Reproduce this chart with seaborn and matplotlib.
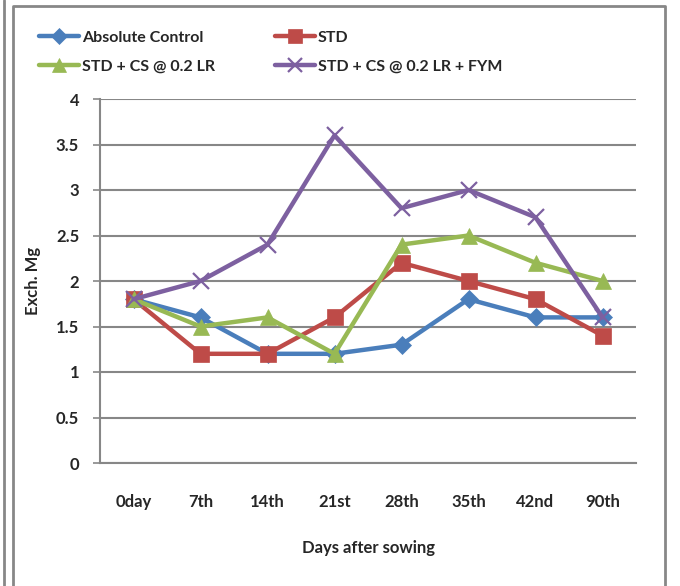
import matplotlib
matplotlib.use("Agg")
import matplotlib.pyplot as plt
from matplotlib.lines import Line2D
from matplotlib.ticker import FixedLocator
import seaborn as sns
import pandas as pd

days = ["0day", "7th", "14th", "21st", "28th", "35th", "42nd", "90th"]
absolute_control = [1.8, 1.6, 1.2, 1.2, 1.3, 1.8, 1.6, 1.6]
std = [1.8, 1.2, 1.2, 1.6, 2.2, 2.0, 1.8, 1.4]
std_cs = [1.8, 1.5, 1.6, 1.2, 2.4, 2.5, 2.2, 2.0]
std_cs_fym = [1.8, 2.0, 2.4, 3.6, 2.8, 3.0, 2.7, 1.6]
y_ticks = [0, 0.5, 1, 1.5, 2, 2.5, 3, 3.5, 4]
y_tick_labels = ["0", "0.5", "1", "1.5", "2", "2.5", "3", "3.5", "4"]

series_names = ["Absolute Control", "STD", "STD + CS @ 0.2 LR", "STD + CS @ 0.2 LR + FYM"]
series_values = [absolute_control, std, std_cs, std_cs_fym]
colors = ["#4A7EBB", "#BE4B48", "#98B954", "#7D60A0"]
markers = ["D", "s", "^", "x"]
msizes = [9, 12, 12, 12]

rows = []
for name, vals in zip(series_names, series_values):
    for i, (d, v) in enumerate(zip(days, vals)):
        rows.append({"pos": i, "day": d, "series": name, "value": v})
df = pd.DataFrame(rows)

FONT = ["Lato", "DejaVu Sans"]
FS = 12
LEG_FS = 11.5

sns.set_theme(style="white")
plt.rcParams["font.family"] = FONT
plt.rcParams["font.weight"] = "bold"

fig = plt.figure(figsize=(6.8, 5.86), dpi=100)
ax = fig.add_axes([100 / 680, 1 - 463 / 586, 536 / 680, 364 / 586])

for name, c, m, ms in zip(series_names, colors, markers, msizes):
    sub = df[df["series"] == name]
    sns.lineplot(data=sub, x="pos", y="value", ax=ax, color=c, linewidth=3.2,
                 marker=m, markersize=ms, markeredgecolor=c,
                 markeredgewidth=1.6 if m == "x" else 0.5, label=name,
                 legend=False, zorder=3)

ax.set_xlim(-0.5, len(days) - 0.5)
ax.set_ylim(0, 4)
ax.set_yticks(y_ticks)
ax.set_yticklabels(y_tick_labels)
ax.set_xticks(range(len(days)))
ax.set_xticklabels(days)
ax.xaxis.set_minor_locator(FixedLocator([i - 0.5 for i in range(len(days) + 1)]))

ax.grid(axis="y", color="#878787", linewidth=1.5, zorder=0)
ax.grid(axis="x", visible=False)
for side in ["top", "right"]:
    ax.spines[side].set_visible(False)
for side in ["left", "bottom"]:
    ax.spines[side].set_color("#878787")
    ax.spines[side].set_linewidth(1.5)

ax.tick_params(axis="x", which="major", length=0, pad=22, labelsize=FS)
ax.tick_params(axis="x", which="minor", length=5, width=1.2, color="#878787", direction="out")
ax.tick_params(axis="y", which="major", length=5, width=1.2, color="#878787",
               direction="out", pad=10, labelsize=FS, left=True)
for lab in ax.get_xticklabels() + ax.get_yticklabels():
    lab.set_fontweight("bold")

ax.set_xlabel("Days after sowing", fontsize=FS, fontweight="bold", labelpad=22)
ax.set_ylabel("Exch. Mg", fontsize=FS, fontweight="bold", labelpad=11)

handles = [Line2D([], [], color=c, marker=m, markersize=ms * 0.85, linewidth=3.2,
                  markeredgecolor=c, markeredgewidth=1.6 if m == "x" else 0.5)
           for c, m, ms in zip(colors, markers, msizes)]
# legend is filled column by column, so interleave to read row by row
order = [0, 2, 1, 3]
fig.legend([handles[i] for i in order], [series_names[i] for i in order],
           loc="upper left", bbox_to_anchor=(25 / 680, 1 - 16 / 586),
           ncol=2, frameon=False, handlelength=2.5, handletextpad=0.15,
           columnspacing=3.8, labelspacing=0.95,
           prop={"family": FONT, "weight": "bold", "size": LEG_FS})

# chart frame
frame_color = "#878787"
fig.add_artist(Line2D([4 / 680, 4 / 680], [0, 1], transform=fig.transFigure,
                      color=frame_color, linewidth=2))
fig.add_artist(Line2D([13 / 680, 13 / 680, 665 / 680, 665 / 680],
                      [0, 1 - 6 / 586, 1 - 6 / 586, 0], transform=fig.transFigure,
                      color=frame_color, linewidth=2))

fig.savefig("out.png", dpi=100)
